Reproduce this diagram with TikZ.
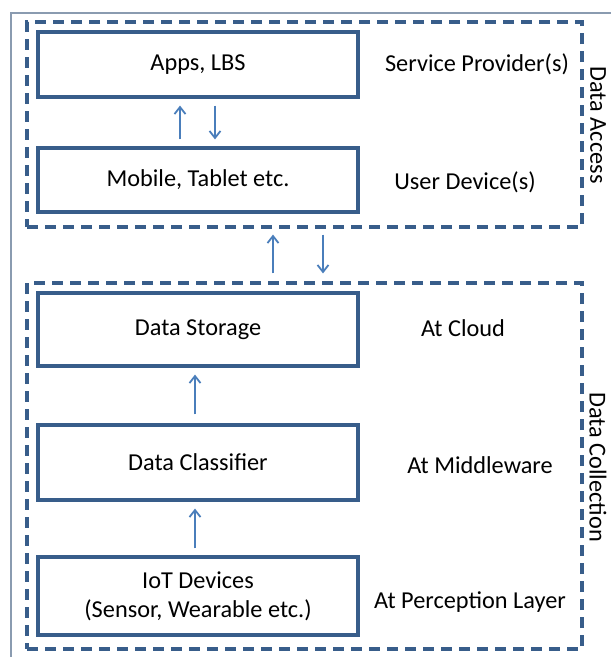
\documentclass[tikz,border=0pt]{standalone}
\usepackage{fontspec}
\setmainfont{Carlito}
\usetikzlibrary{arrows.meta,calc}
\definecolor{boxblue}{HTML}{385D8A}
\definecolor{arrblue}{HTML}{4A7EBB}
\definecolor{framegray}{HTML}{8A9BB0}
\begin{document}
\begin{tikzpicture}[x=1pt,y=-1pt,
  every node/.style={font=\fontsize{24.3}{29}\selectfont, text=black},
  layerbox/.style={draw=boxblue, line width=3.2pt, minimum width=320pt, inner sep=0pt, align=center},
  groupbox/.style={draw=boxblue, line width=3.2pt, dash pattern=on 11pt off 7pt, inner sep=0pt},
  arr/.style={draw=arrblue, line width=1.8pt, -{Straight Barb[length=7pt,width=11pt,line width=1.8pt]}},
  lbl/.style={anchor=center},
  side/.style={rotate=-90, anchor=center}]
\useasboundingbox (0,0) rectangle (611,657);
\fill[white] (0,0) rectangle (611,657);
\draw[framegray, line width=1.4pt] (11,657) -- (11,13) -- (611,13);
% groups
\node[groupbox, minimum width=555pt, minimum height=205pt] (acc) at (304.5,124.5) {};
\node[groupbox, minimum width=555pt, minimum height=366pt] (coll) at (304.5,466) {};
% boxes
\node[layerbox, minimum height=65pt] (apps) at (198,64.5) {Apps, LBS};
\node[layerbox, minimum height=64pt] (mob) at (198,180) {Mobile, Tablet etc.};
\node[layerbox, minimum height=73pt] (stor) at (198,329.5) {Data Storage};
\node[layerbox, minimum height=75pt] (cls) at (198,462.5) {Data Classifier};
\node[layerbox, minimum height=78pt] (iot) at (198,596) {IoT Devices\\(Sensor, Wearable etc.)};
% labels
\node[lbl] (l1) at (477,64) {Service Provider(s)};
\node[lbl] (l2) at (465,182) {User Device(s)};
\node[lbl] (l3) at (463,328) {At Cloud};
\node[lbl] (l4) at (480,465) {At Middleware};
\node[lbl] (l5) at (470,602) {At Perception Layer};
\node[side] (s1) at (598,125) {Data Access};
\node[side] (s2) at (598,467) {Data Collection};
% arrows
\draw[arr, shorten <=7pt, shorten >=7pt] ([xshift=-18pt]mob.north) -- ([xshift=-18pt]apps.south);
\draw[arr, shorten <=7pt, shorten >=7pt] ([xshift=17pt]apps.south) -- ([xshift=17pt]mob.north);
\draw[arr, shorten <=8pt, shorten >=6pt] ([xshift=-31.5pt]coll.north) -- ([xshift=-31.5pt]acc.south);
\draw[arr, shorten <=6pt, shorten >=8pt] ([xshift=18.5pt]acc.south) -- ([xshift=18.5pt]coll.north);
\draw[arr, shorten <=9pt, shorten >=7pt] ([xshift=-3pt]cls.north) -- ([xshift=-3pt]stor.south);
\draw[arr, shorten <=7pt, shorten >=7pt] ([xshift=-3pt]iot.north) -- ([xshift=-3pt]cls.south);
\end{tikzpicture}
\end{document}
